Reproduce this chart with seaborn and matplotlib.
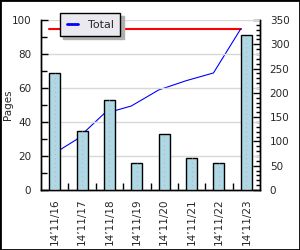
import numpy as np
import pandas as pd
import matplotlib
matplotlib.use("Agg")
import matplotlib.pyplot as plt
from matplotlib.patches import Rectangle
from matplotlib.ticker import MultipleLocator, FixedLocator
import seaborn as sns

categories = ["14’11/16", "14’11/17", "14’11/18", "14’11/19",
              "14’11/20", "14’11/21", "14’11/22", "14’11/23"]
pages = [69, 35, 53, 16, 33, 19, 16, 91]
total = [69, 104, 157, 173, 206, 225, 241, 332]
max_total = 332

sns.set_style("white")
plt.rcParams["font.family"] = ["DejaVu Sans"]
plt.rcParams["font.size"] = 7.5

fig = plt.figure(figsize=(3.0, 2.5), dpi=100)
ax = fig.add_axes([41 / 300, 60 / 250, 219 / 300, 170 / 250])
ax2 = ax.twinx()

df = pd.DataFrame({"cat": categories, "pages": pages})
sns.barplot(data=df, x="cat", y="pages", ax=ax, color="#add8e6",
            width=0.4, edgecolor="black", linewidth=1.0, saturation=1, zorder=3)
xs = np.arange(len(categories))
ax.vlines(xs, 0, pages, colors="#e0a8a8", linestyles=(0, (1, 3)),
          linewidth=0.8, zorder=4)

lx = xs - 0.2
sns.lineplot(x=lx, y=total, ax=ax2, color="#0000ff", linewidth=0.8,
             label="Total", legend=False)
ax2.plot([lx[0], lx[-1]], [max_total, max_total], color="#ff0000",
         linewidth=1.5, zorder=1)

ax.set_zorder(ax2.get_zorder() + 1)
ax.patch.set_visible(False)
ax2.patch.set_visible(True)
ax2.patch.set_facecolor("white")

ax.set_xlim(-0.5, len(categories) - 0.5)
ax.set_ylim(0, 100)
ax2.set_ylim(0, 350)

ax.yaxis.set_major_locator(MultipleLocator(20))
ax.yaxis.set_minor_locator(MultipleLocator(10))
ax2.yaxis.set_major_locator(MultipleLocator(50))
ax2.yaxis.set_minor_locator(MultipleLocator(10))
ax.xaxis.set_minor_locator(FixedLocator(xs[:-1] + 0.5))

ax.tick_params(axis="y", which="major", direction="in", length=5, width=1,
               color="black", pad=7, labelsize=7.5, left=True)
ax.tick_params(axis="y", which="minor", direction="in", length=4, width=1,
               color="black", left=True)
ax2.tick_params(axis="y", which="major", direction="in", length=5, width=1,
                color="black", pad=7, labelsize=7.5, right=True)
ax2.tick_params(axis="y", which="minor", direction="in", length=3, width=1,
                color="black", right=True)
ax.tick_params(axis="x", which="major", length=0, pad=6, labelsize=7.5,
               rotation=90)
ax.tick_params(axis="x", which="minor", direction="in", length=5, width=1,
               color="black", bottom=True)

ax.set_xlabel("")
ax.set_ylabel("Pages", fontsize=7.5)
ax.yaxis.set_label_coords(-28 / 219, 0.5)
ax2.set_ylabel("")

ax.grid(axis="y", which="major", color="#d8d8d8", linewidth=1, zorder=0)
ax.set_axisbelow(True)

for a in (ax, ax2):
    a.spines["top"].set_visible(False)
    for s in ("left", "right", "bottom"):
        a.spines[s].set_color("black")
        a.spines[s].set_linewidth(1)

handles, labels = ax2.get_legend_handles_labels()
leg = ax.legend(handles, labels, loc="upper left",
                bbox_to_anchor=(19 / 219, 177 / 170), fancybox=False,
                shadow={"color": "#b0b0b0", "ox": 2.2, "oy": -2.2, "alpha": 1},
                frameon=True, borderaxespad=0, handlelength=1.0,
                handletextpad=0.9, borderpad=0.6, fontsize=8)
leg.get_frame().set_facecolor("#ebe9f0")
leg.get_frame().set_edgecolor("black")
leg.get_frame().set_linewidth(1)
leg.get_frame().set_alpha(1)
for ln in leg.get_lines():
    ln.set_linewidth(2)

fig.patches.append(Rectangle((0, 0), 1, 1, transform=fig.transFigure,
                             fill=False, edgecolor="black", linewidth=2))

fig.savefig("out.png", dpi=100)
